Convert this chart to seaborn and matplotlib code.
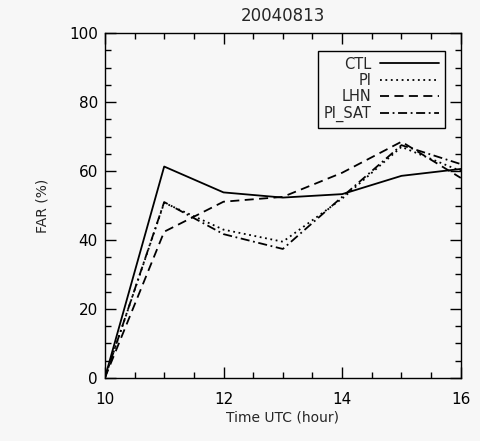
import numpy as np
import pandas as pd
import seaborn as sns
from matplotlib import pyplot as plt
from matplotlib.ticker import MultipleLocator

# datos
hours = [10, 11, 12, 13, 14, 15, 16]
ctl = [0, 61.3, 53.8, 52.3, 53.3, 58.6, 60.6]
pi = [0, 50.8, 43.0, 39.5, 52.0, 67.0, 60.0]
lhn = [0, 42.4, 51.1, 52.5, 59.5, 68.5, 58.0]
pi_sat = [0, 51.0, 41.7, 37.4, 52.5, 67.5, 62.0]

series = {'CTL': ctl, 'PI': pi, 'LHN': lhn, 'PI_SAT': pi_sat}
estilos = {'CTL': '-', 'PI': (0, (1, 2)), 'LHN': (0, (5, 3)), 'PI_SAT': (0, (5, 2, 1, 2))}

sns.set_style('ticks')
plt.rcParams['font.family'] = ['DejaVu Sans']

bg = '#f7f7f7'
fig = plt.figure(figsize=(4.81, 4.41), dpi=100, facecolor=bg)
ax = fig.add_axes([0.218, 0.143, 0.740, 0.782])
ax.set_facecolor(bg)

for nombre, vals in series.items():
    df = pd.DataFrame({'hora': hours, 'far': vals})
    sns.lineplot(data=df, x='hora', y='far', ax=ax, color='black',
                 linestyle=estilos[nombre], linewidth=1.3, label=nombre)

ax.set_xlim(10, 16)
ax.set_ylim(0, 100)
ax.xaxis.set_major_locator(MultipleLocator(2))
ax.xaxis.set_minor_locator(MultipleLocator(0.5))
ax.yaxis.set_major_locator(MultipleLocator(20))
ax.yaxis.set_minor_locator(MultipleLocator(5))
ax.tick_params(which='both', direction='in', top=True, right=True, labelsize=11, colors='black')
ax.tick_params(which='major', length=8, width=1)
ax.tick_params(which='minor', length=4, width=1)
ax.tick_params(axis='x', which='major', pad=10)
ax.tick_params(axis='y', which='major', pad=5)
for s in ax.spines.values():
    s.set_color('black')
    s.set_linewidth(1)

ax.set_title('20040813', fontsize=12, pad=9)
ax.set_xlabel('Time UTC (hour)', fontsize=10, labelpad=3)
ax.set_ylabel('FAR (%)', fontsize=10, labelpad=14)

leg = ax.legend(loc='upper right', bbox_to_anchor=(0.975, 0.97), markerfirst=False,
                fontsize=10.5, frameon=True, fancybox=False, edgecolor='black',
                facecolor=bg, framealpha=1, handlelength=4.0, labelspacing=0.1,
                borderpad=0.4, handletextpad=0.6)
leg.get_frame().set_linewidth(1)
for t in leg.get_texts():
    t.set_ha('right')

fig.savefig('out.png', dpi=100, facecolor=bg)
